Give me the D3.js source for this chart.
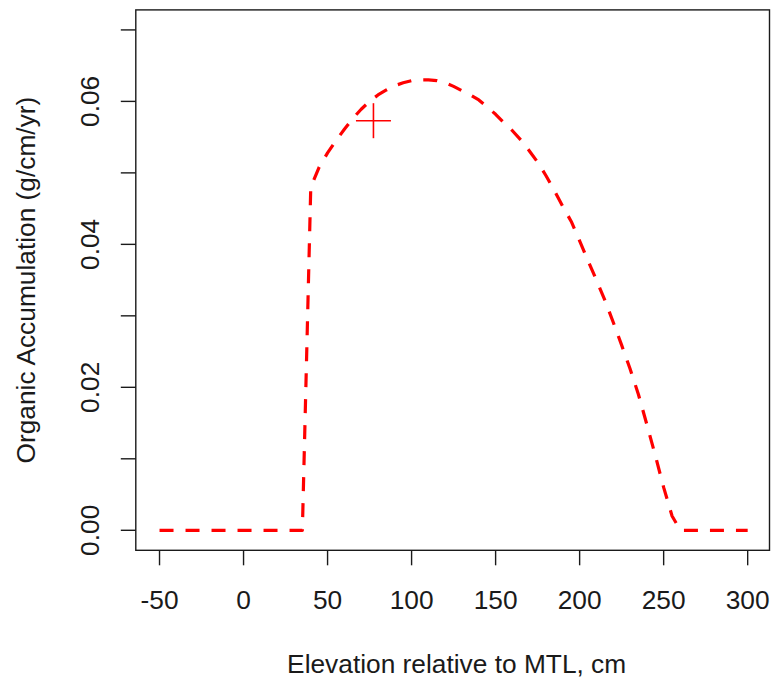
<!DOCTYPE html>
<html>
<head>
<meta charset="utf-8">
<script src="https://cdn.jsdelivr.net/npm/d3@7"></script>
<style>
  html, body { margin: 0; padding: 0; background: #fff; }
  svg { display: block; }
  text { font-family: "Liberation Sans", Arial, sans-serif; fill: #1a1a1a; }
</style>
</head>
<body>
<svg id="chart" width="771" height="679"></svg>
<script>
// Elevation (cm, relative to MTL)
const elevation = [-50, -45, -40, -35, -30, -25, -20, -15, -10, -5, 0, 5, 10, 15, 20, 25, 30, 35,
  40, 45, 50, 55, 60, 65, 70, 75, 80, 85, 90, 95, 100, 105, 110, 115, 120, 125, 130, 135, 140,
  145, 150, 155, 160, 165, 170, 175, 180, 185, 190, 195, 200, 205, 210, 215, 220, 225, 230, 235,
  240, 245, 250, 255, 260, 265, 270, 275, 280, 285, 290, 295, 300];
// Organic accumulation (g/cm/yr)
const accumulation = [0, 0, 0, 0, 0, 0, 0, 0, 0, 0, 0, 0, 0, 0, 0, 0, 0, 0,
  0.0480, 0.0508, 0.0528, 0.0545, 0.0561, 0.0576, 0.0589, 0.0600, 0.0609, 0.0616, 0.0622, 0.0626,
  0.0629, 0.0630, 0.0630, 0.0629, 0.0626, 0.0621, 0.0615, 0.0609, 0.0602, 0.0592, 0.0582, 0.0570,
  0.0559, 0.0546, 0.0531, 0.0515, 0.0496, 0.0475, 0.0453, 0.0432, 0.0405, 0.0377, 0.0350, 0.0322,
  0.0291, 0.0259, 0.0226, 0.0190, 0.0148, 0.0105, 0.0060, 0.0020, 0, 0, 0, 0, 0, 0, 0, 0, 0];
// Observed point
const observed = [{ x: 77.3, y: 0.0573 }];

const xTicks = [-50, 0, 50, 100, 150, 200, 250, 300];
const yTicks = [0, 0.01, 0.02, 0.03, 0.04, 0.05, 0.06, 0.07];
const yTickLabels = ["0.00", "", "0.02", "", "0.04", "", "0.06", ""];

const xTitle = "Elevation relative to MTL, cm";
const yTitle = "Organic Accumulation (g/cm/yr)";

const svg = d3.select("#chart");
const x = d3.scaleLinear().domain([-64, 314]).range([136, 771.2]);
const y = d3.scaleLinear().domain([-0.0028, 0.0728]).range([550.3, 9.9]);

const ink = "#1a1a1a";
const fontSize = 26.3;

// plot box
const boxL = 135.8, boxR = 769.5, boxT = y.range()[1], boxB = y.range()[0];
svg.append("rect")
  .attr("x", boxL).attr("y", boxT)
  .attr("width", boxR - boxL).attr("height", boxB - boxT)
  .attr("fill", "none").attr("stroke", ink).attr("stroke-width", 1.4);

// x axis
const xAxis = svg.append("g");
xAxis.selectAll("line.tick").data(xTicks).join("line")
  .attr("x1", d => x(d)).attr("x2", d => x(d))
  .attr("y1", boxB).attr("y2", boxB + 15)
  .attr("stroke", ink).attr("stroke-width", 1.4);
xAxis.selectAll("text").data(xTicks).join("text")
  .attr("x", d => x(d)).attr("y", 608.5)
  .attr("text-anchor", "middle")
  .style("font-size", fontSize + "px")
  .text(d => d);

// y axis
const yAxis = svg.append("g");
yAxis.selectAll("line.tick").data(yTicks).join("line")
  .attr("x1", boxL - 15).attr("x2", boxL)
  .attr("y1", d => y(d)).attr("y2", d => y(d))
  .attr("stroke", ink).attr("stroke-width", 1.4);
yAxis.selectAll("text").data(yTicks).join("text")
  .attr("transform", d => `translate(99,${y(d)}) rotate(-90)`)
  .attr("text-anchor", "middle")
  .style("font-size", fontSize + "px")
  .text((d, i) => yTickLabels[i]);

// titles
svg.append("text")
  .attr("x", (boxL + boxR) / 2 + 4).attr("y", 673)
  .attr("text-anchor", "middle")
  .style("font-size", fontSize + "px")
  .text(xTitle);
svg.append("text")
  .attr("transform", `translate(35,${(boxT + boxB) / 2}) rotate(-90)`)
  .attr("text-anchor", "middle")
  .style("font-size", fontSize + "px")
  .text(yTitle);

// curve
const data = elevation.map((e, i) => ({ x: e, y: accumulation[i] }));
const line = d3.line().x(d => x(d.x)).y(d => y(d.y));
svg.append("path")
  .datum(data)
  .attr("d", line)
  .attr("fill", "none")
  .attr("stroke", "#ff0000")
  .attr("stroke-width", 3.2)
  .attr("stroke-dasharray", "14,12")
  .attr("stroke-linejoin", "round");

// observed point (+)
const s = 17.5;
const pts = svg.append("g").selectAll("g").data(observed).join("g")
  .attr("transform", d => `translate(${x(d.x)},${y(d.y)})`);
pts.append("line").attr("x1", -s).attr("x2", s).attr("y1", 0).attr("y2", 0)
  .attr("stroke", "#ff0000").attr("stroke-width", 1.6);
pts.append("line").attr("x1", 0).attr("x2", 0).attr("y1", -s).attr("y2", s)
  .attr("stroke", "#ff0000").attr("stroke-width", 1.6);
</script>
</body>
</html>
